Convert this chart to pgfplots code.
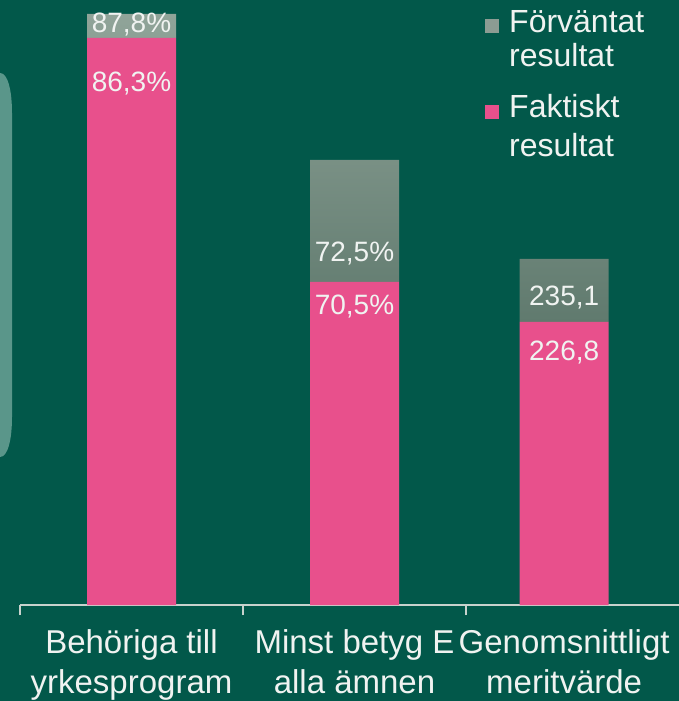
\documentclass[border=0pt]{standalone}
\usepackage{pgfplots}
\pgfplotsset{compat=1.18}
\usepackage{pgfplotstable}
\usepackage{fontspec}
\setmainfont{Liberation Sans}
\definecolor{bg}{HTML}{02584A}
\definecolor{pinkbar}{HTML}{E8508C}
\definecolor{graytop}{HTML}{90A499}
\definecolor{graybot}{HTML}{607A6E}
\definecolor{legendgray}{HTML}{8C9C93}
\definecolor{strip}{HTML}{5A968A}
\definecolor{axisgray}{HTML}{C8D2CD}
\definecolor{txt}{HTML}{F0F3F1}

% bar heights as drawn (the chart is not to scale)
\pgfplotstableread{
x     pink  gray
0     567   591
1     323   445
1.94  283   346
}\bars
\pgfplotstableread{
x     y    label
0     572  {87,8\%}
1     343  {72,5\%}
1.94  299  {235,1}
}\graylabels
\pgfplotstableread{
x     y    label
0     513  {86,3\%}
1     290  {70,5\%}
1.94  244  {226,8}
}\pinklabels

\begin{document}
\begin{tikzpicture}
\fill[bg] (0bp,0bp) rectangle (679bp,701bp);
\useasboundingbox (0bp,0bp) rectangle (679bp,701bp);
\fill[strip] (-10bp,628bp) -- (0bp,628bp) .. controls (8bp,628bp) and (12bp,610bp) .. (12bp,588bp) -- (12bp,284bp) .. controls (12bp,262bp) and (8bp,244bp) .. (0bp,244bp) -- (-10bp,244bp) -- cycle;

\begin{axis}[
  at={(20bp,96bp)}, anchor=south west,
  scale only axis, width=659bp, height=605bp,
  xmin=-0.5, xmax=2.455, ymin=0, ymax=605,
  axis y line=none,
  axis x line*=bottom,
  x axis line style={axisgray, line width=2bp},
  ybar stacked, bar width=89bp,
  xtick={0,1,1.94},
  xticklabels={{Behöriga till\\yrkesprogram},{Minst betyg E\\alla ämnen},{Genomsnittligt\\meritvärde}},
  xticklabel style={align=center, font=\fontsize{33bp}{40bp}\selectfont, text=txt, inner sep=0pt, anchor=north, yshift=-24bp},
  major tick length=0pt,
  extra x ticks={-0.5,0.5,1.5},
  extra x tick labels={},
  extra x tick style={major tick length=10bp, tick align=outside, tick style={axisgray, line width=2bp}},
  clip=false,
]
\addplot[fill=pinkbar, draw=none] table[x=x, y=pink] {\bars};
\addplot[draw=none, top color=graytop, bottom color=graybot] table[x=x, y expr=\thisrow{gray}-\thisrow{pink}] {\bars};
\end{axis}

\begin{axis}[
  at={(20bp,96bp)}, anchor=south west,
  scale only axis, width=659bp, height=605bp,
  xmin=-0.5, xmax=2.455, ymin=0, ymax=605,
  hide axis, clip=false,
  nodes near coords align={anchor=base},
  every node near coord/.append style={text=txt, font=\fontsize{28bp}{30bp}\selectfont, inner sep=0pt},
]
\addplot[draw=none, mark=none, nodes near coords, point meta=explicit symbolic] table[x=x, y=y, meta=label] {\graylabels};
\addplot[draw=none, mark=none, nodes near coords, point meta=explicit symbolic] table[x=x, y=y, meta=label] {\pinklabels};
\end{axis}

% legend
\fill[legendgray] (485bp,668bp) rectangle (499bp,682bp);
\fill[pinkbar] (485bp,582bp) rectangle (499bp,596bp);
\begin{scope}[every node/.style={anchor=base west, inner sep=0pt, text=txt, font=\fontsize{32bp}{36bp}\selectfont}]
\node at (509bp,668bp) {Förväntat};
\node at (509bp,634bp) {resultat};
\node at (509bp,583bp) {Faktiskt};
\node at (509bp,544bp) {resultat};
\end{scope}
\end{tikzpicture}
\end{document}
